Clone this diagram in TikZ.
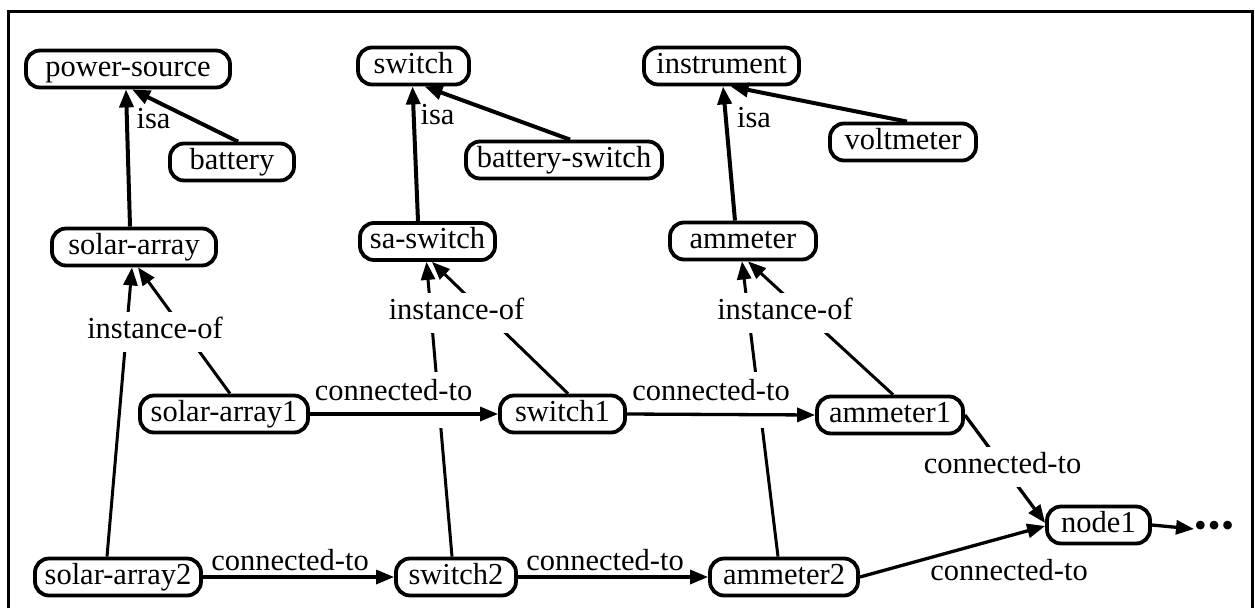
\documentclass[tikz,border=0pt]{standalone}
\usepackage{fontspec}
\setmainfont{Liberation Serif}
\usetikzlibrary{arrows.meta}
\begin{document}
\begin{tikzpicture}[x=1pt,y=-1pt,
  every node/.style={font=\fontsize{30.5}{36}\selectfont},
  box/.style={draw, line width=3.8pt, rounded corners=14pt, fill=white, minimum height=37pt, inner xsep=0pt, inner ysep=0pt, text height=21pt, text depth=7pt},
  lbl/.style={inner sep=0pt, anchor=base},
  masklbl/.style={fill=white, inner xsep=3pt, inner ysep=0pt, anchor=base, text height=26pt, text depth=14pt},
  bigmask/.style={fill=white, inner xsep=3pt, inner ysep=0pt, anchor=base, text height=28pt, text depth=28pt},
  tip/.style={-{Triangle[length=18pt,width=14pt]}},
  isa/.style={line width=4pt, tip},
  inst/.style={line width=3pt, tip},
  conn/.style={line width=3.3pt, tip},
  frame/.style={line width=3pt}
]
\useasboundingbox (0,0) rectangle (1255,608);
\draw[frame] (8,608) -- (8,11) -- (1252,11) -- (1252,608);

% nodes
\node[box, minimum width=204pt] (ps) at (128,69) {power-source};
\node[box, minimum width=124pt] (bat) at (232,162) {battery};
\node[box, minimum width=111pt] (sw) at (413.5,66) {switch};
\node[box, minimum width=196pt] (bsw) at (564,160) {battery-switch};
\node[box, minimum width=155pt] (ins) at (721.5,66) {instrument};
\node[box, minimum width=146pt] (vm) at (903,142) {voltmeter};
\node[box, minimum width=164pt] (sa) at (134,247) {solar-array};
\node[box, minimum width=135pt] (sasw) at (427.5,241.5) {sa-switch};
\node[box, minimum width=146pt] (am) at (743,241) {ammeter};
\node[box, minimum width=168pt] (sa1) at (224,414) {solar-array1};
\node[box, minimum width=125pt] (sw1) at (562.5,414) {switch1};
\node[box, minimum width=146pt] (am1) at (890,415) {ammeter1};
\node[box, minimum width=166pt] (sa2) at (118,577) {solar-array2};
\node[box, minimum width=120pt] (sw2) at (456,577) {switch2};
\node[box, minimum width=148pt] (am2) at (784,577) {ammeter2};
\node[box, minimum width=103pt] (n1) at (1098.5,525) {node1};
\node[font=\fontsize{36}{40}\selectfont, inner sep=0pt, anchor=west] (dots) at (1194,529) {•\kern1pt•\kern1pt•};

% isa
\draw[isa] ([xshift=-4pt]sa.north) -- ([xshift=-2pt]ps.south);
\draw[isa] ([xshift=6pt]bat.north) -- ([xshift=4pt]ps.south);
\node[lbl] (isa1) at (153.5,128) {isa};
\draw[isa] ([xshift=-9.5pt]sasw.north) -- ([xshift=-1pt]sw.south);
\draw[isa] ([xshift=6pt]bsw.north) -- ([xshift=11pt]sw.south);
\node[lbl] (isa2) at (437.5,124) {isa};
\draw[isa] ([xshift=-8pt]am.north) -- ([xshift=1.5pt]ins.south);
\draw[isa] ([xshift=4pt]vm.north) -- ([xshift=9pt]ins.south);
\node[lbl] (isa3) at (754,127) {isa};

% instance-of
\draw[inst] ([xshift=-11pt]sa2.north) -- ([xshift=-2pt]sa.south);
\draw[inst] ([xshift=6pt]sa1.north) -- ([xshift=4pt]sa.south);
\draw[inst] ([xshift=-4pt]sw2.north) -- ([xshift=-1pt]sasw.south);
\draw[inst] ([xshift=5.5pt]sw1.north) -- ([xshift=4.5pt]sasw.south);
\draw[inst] ([xshift=-6pt]am2.north) -- ([xshift=-1pt]am.south);
\draw[inst] ([xshift=3pt]am1.north) -- ([xshift=5pt]am.south);
\node[masklbl] (io1) at (155,338) {instance-of};
\node[masklbl] (io2) at (456.5,319) {instance-of};
\node[masklbl] (io3) at (785,319) {instance-of};

% connected-to
\draw[conn] (am1.east) -- ([yshift=2pt]n1.west);
\node[masklbl] (c5) at (1002.5,473) {connected-to};
\node[bigmask] (c1) at (393.5,400) {connected-to};
\node[bigmask] (c2) at (711,400) {connected-to};
\draw[conn] (sa1.east) -- (sw1.west);
\draw[conn] (sw1.east) -- (am1.west);
\draw[conn] (sa2.east) -- (sw2.west);
\node[lbl] (c3) at (290,570) {connected-to};
\draw[conn] (sw2.east) -- (am2.west);
\node[lbl] (c4) at (605,570) {connected-to};
\draw[conn] (am2.east) -- ([yshift=-1pt]n1.west);
\node[lbl] (c6) at (1009,580) {connected-to};
\draw[conn] (n1.east) -- (dots.west);
\end{tikzpicture}
\end{document}
